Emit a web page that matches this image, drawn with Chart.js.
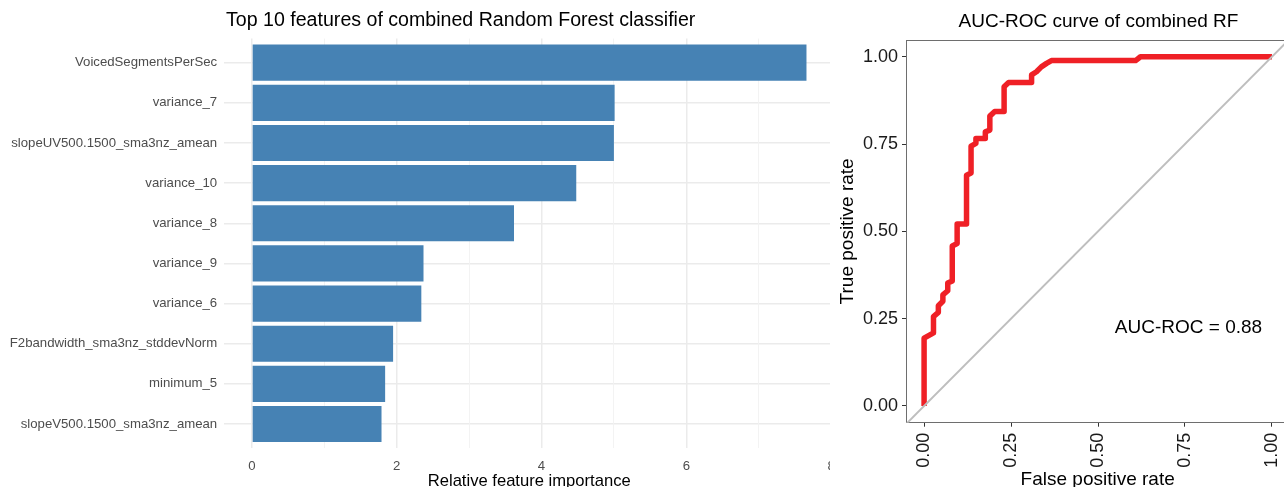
<!DOCTYPE html>
<html>
<head>
<meta charset="utf-8">
<title>Random Forest features and ROC</title>
<script src="https://cdn.jsdelivr.net/npm/chart.js@4.4.1/dist/chart.umd.min.js"></script>
<style>
  body { margin: 0; background: #fff; width: 1284px; height: 487px; overflow: hidden; position: relative; font-family: 'Liberation Sans', Arial, sans-serif; }
  .wrap { position: absolute; top: 0; height: 487px; overflow: hidden; }
  .title { position: absolute; height: 40px; line-height: 40px; color: #000; white-space: nowrap; }
</style>
</head>
<body>
<div class="wrap" style="left:0;width:830px"><canvas id="featureChart" width="850" height="500"></canvas></div>
<div class="wrap" style="left:830px;width:454px"><canvas id="rocChart" width="470" height="500"></canvas></div>
<div class="title" style="top:-1px;left:226px;font-size:19.6px">Top 10 features of combined Random Forest classifier</div>
<div class="title" style="top:1px;left:913px;width:371px;text-align:center;font-size:19px">AUC-ROC curve of combined RF</div>
<script>
const FONT = "'Liberation Sans', Arial, sans-serif";

// feature importance (top to bottom)
const features = ['VoicedSegmentsPerSec', 'variance_7', 'slopeUV500.1500_sma3nz_amean', 'variance_10', 'variance_8',
    'variance_9', 'variance_6', 'F2bandwidth_sma3nz_stddevNorm', 'minimum_5', 'slopeV500.1500_sma3nz_amean'];
const importance = [7.66, 5.01, 5.00, 4.48, 3.62, 2.37, 2.34, 1.95, 1.84, 1.79];
const importanceTicks = [0, 1, 2, 3, 4, 5, 6, 7, 8];

// ROC curve points
const fpr = [0, 0, 0.027, 0.027, 0.041, 0.041, 0.054, 0.054, 0.068, 0.068, 0.081, 0.081, 0.095, 0.095, 0.122, 0.122,
    0.135, 0.135, 0.149, 0.149, 0.176, 0.176, 0.189, 0.189, 0.203, 0.230, 0.230, 0.243, 0.309, 0.309, 0.323, 0.337,
    0.352, 0.366, 0.608, 0.622, 1.0];
const tpr = [0, 0.194, 0.209, 0.256, 0.268, 0.287, 0.300, 0.318, 0.330, 0.352, 0.358, 0.458, 0.465, 0.521, 0.521, 0.661,
    0.667, 0.744, 0.752, 0.766, 0.766, 0.785, 0.790, 0.830, 0.843, 0.843, 0.914, 0.926, 0.926, 0.948, 0.957, 0.971,
    0.981, 0.989, 0.989, 1.0, 1.0];
const rateTicks = [0, 0.25, 0.5, 0.75, 1];
const chanceLine = [-0.1, 1.1];
const aucLabel = 'AUC-ROC = 0.88';
const aucPos = [0.76, 0.23];

function initializeFeatureChart() {
    const ctx = document.getElementById('featureChart').getContext('2d');
    new Chart(ctx, {
        type: 'bar',
        data: {
            datasets: [{
                data: importance.map((v, i) => ({ x: v, y: i })),
                backgroundColor: '#4682B4',
                borderWidth: 0,
                barPercentage: 0.9,
                categoryPercentage: 1
            }]
        },
        options: {
            indexAxis: 'y',
            responsive: false,
            animation: false,
            devicePixelRatio: 1,
            layout: { padding: { top: 38.6, right: 15.8, left: 0, bottom: 0 } },
            plugins: { legend: { display: false }, tooltip: { enabled: false } },
            scales: {
                y: {
                    type: 'linear',
                    reverse: true,
                    offset: false,
                    min: -0.6,
                    max: 9.6,
                    afterBuildTicks: s => { s.ticks = features.map((f, i) => ({ value: i })); },
                    afterFit: s => { s.width = 224.2; },
                    grid: { color: '#EBEBEB', lineWidth: 1.5, drawTicks: false, offset: false },
                    border: { display: false },
                    ticks: {
                        callback: v => features[v],
                        color: '#4D4D4D',
                        font: { family: FONT, size: 13.2 },
                        padding: 7
                    }
                },
                x: {
                    type: 'linear',
                    min: -0.383,
                    max: 8.043,
                    afterBuildTicks: s => { s.ticks = importanceTicks.map(v => ({ value: v })); },
                    afterFit: s => { s.height = 51.9; },
                    grid: {
                        color: c => (c.tick && c.tick.value % 2 === 0) ? '#EBEBEB' : '#F2F2F2',
                        lineWidth: c => (c.tick && c.tick.value % 2 === 0) ? 1.5 : 0.9,
                        drawTicks: false
                    },
                    border: { display: false },
                    ticks: {
                        callback: v => (v % 2 === 0 ? String(v) : ''),
                        autoSkip: false,
                        maxRotation: 0,
                        color: '#4D4D4D',
                        font: { family: FONT, size: 13.2 },
                        padding: 10
                    },
                    title: {
                        display: true,
                        text: 'Relative feature importance',
                        color: '#000',
                        font: { family: FONT, size: 16.6 },
                        padding: { top: 0, bottom: 9 }
                    }
                }
            }
        }
    });
}

// AUC text and top frame line on the ROC panel
const rocExtras = {
    id: 'rocExtras',
    afterDatasetsDraw(chart) {
        const { ctx, chartArea, scales } = chart;
        ctx.save();
        ctx.strokeStyle = '#6E6E6E';
        ctx.lineWidth = 1;
        ctx.beginPath();
        ctx.moveTo(chartArea.left, chartArea.top + 0.5);
        ctx.lineTo(chartArea.right, chartArea.top + 0.5);
        ctx.stroke();
        ctx.fillStyle = '#000';
        ctx.font = '19px ' + FONT;
        ctx.textAlign = 'center';
        ctx.textBaseline = 'middle';
        ctx.fillText(aucLabel, scales.x.getPixelForValue(aucPos[0]), scales.y.getPixelForValue(aucPos[1]) + 2);
        ctx.restore();
    }
};

function initializeRocChart() {
    const ctx = document.getElementById('rocChart').getContext('2d');
    const axisTicks = {
        color: '#1A1A1A',
        font: { family: FONT, size: 18 },
        padding: 4
    };
    new Chart(ctx, {
        type: 'scatter',
        data: {
            datasets: [{
                data: chanceLine.map(v => ({ x: v, y: v })),
                showLine: true,
                borderColor: '#BEBEBE',
                borderWidth: 2,
                pointRadius: 0
            }, {
                data: fpr.map((v, i) => ({ x: v, y: tpr[i] })),
                showLine: true,
                borderColor: '#EF2026',
                borderWidth: 5.5,
                borderJoinStyle: 'round',
                pointRadius: 0,
                tension: 0
            }]
        },
        options: {
            responsive: false,
            animation: false,
            devicePixelRatio: 1,
            layout: { padding: { top: 40, right: 9.5, left: 0, bottom: 0 } },
            plugins: { legend: { display: false }, tooltip: { enabled: false } },
            scales: {
                x: {
                    type: 'linear',
                    min: -0.052,
                    max: 1.05,
                    afterBuildTicks: s => { s.ticks = rateTicks.map(v => ({ value: v })); },
                    afterFit: s => { s.height = 77.3; },
                    grid: { drawOnChartArea: false, tickLength: 4, color: '#333', tickColor: '#333' },
                    border: { display: true, color: '#6E6E6E', width: 1 },
                    ticks: Object.assign({}, axisTicks, {
                        callback: v => v.toFixed(2), minRotation: 90, maxRotation: 90, autoSkip: false, padding: 6
                    }),
                    title: {
                        display: true,
                        text: 'False positive rate',
                        color: '#000',
                        font: { family: FONT, size: 19 },
                        padding: { top: 0, bottom: 9 }
                    }
                },
                y: {
                    type: 'linear',
                    min: -0.048,
                    max: 1.048,
                    afterBuildTicks: s => { s.ticks = rateTicks.map(v => ({ value: v })); },
                    afterFit: s => { s.width = 76; },
                    grid: { drawOnChartArea: false, tickLength: 4, color: '#333', tickColor: '#333' },
                    border: { display: true, color: '#6E6E6E', width: 1 },
                    ticks: Object.assign({}, axisTicks, { callback: v => v.toFixed(2) }),
                    title: {
                        display: true,
                        text: 'True positive rate',
                        color: '#000',
                        font: { family: FONT, size: 19 },
                        padding: { top: 6, bottom: 0 }
                    }
                }
            }
        },
        plugins: [rocExtras]
    });
}

document.addEventListener('DOMContentLoaded', () => {
    initializeFeatureChart();
    initializeRocChart();
});
</script>
</body>
</html>
